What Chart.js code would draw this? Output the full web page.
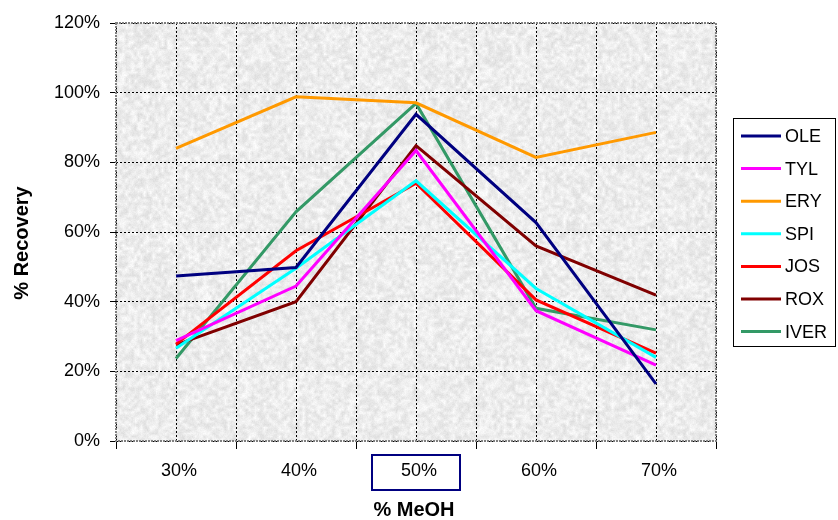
<!DOCTYPE html>
<html>
<head>
<meta charset="utf-8">
<title>% Recovery vs % MeOH</title>
<script src="https://cdn.jsdelivr.net/npm/chart.js@4.4.0/dist/chart.umd.min.js"></script>
<style>
  html, body { margin: 0; padding: 0; background: #ffffff; }
  canvas { display: block; }
</style>
</head>
<body>
<canvas id="chart" width="838" height="520"></canvas>
<script>
// Methanol fraction of the elution solvent
const categories = ['30%', '40%', '50%', '60%', '70%'];

// Recovery (%) per compound
const OLE  = [47.4, 49.8, 93.8, 62.7, 16.4];
const TYL  = [28.8, 44.5, 83.4, 37.4, 21.8];
const ERY  = [84.0, 98.8, 97.1, 81.4, 88.6];
const SPI  = [26.6, 49.6, 74.7, 43.8, 24.0];
const JOS  = [27.8, 54.6, 74.0, 40.5, 25.2];
const ROX  = [27.6, 40.0, 84.8, 56.0, 41.9];
const IVER = [23.7, 65.8, 96.9, 38.1, 31.9];

const seriesNames  = ['OLE', 'TYL', 'ERY', 'SPI', 'JOS', 'ROX', 'IVER'];
const seriesValues = [OLE, TYL, ERY, SPI, JOS, ROX, IVER];
const seriesColors = ['#000080', '#FF00FF', '#FF9900', '#00FFFF', '#FF0000', '#800000', '#339966'];

const yTicks = [0, 20, 40, 60, 80, 100, 120];
const highlightedCategory = '50%';

const FONT = "'Liberation Sans', Arial, Helvetica, sans-serif";

// deterministic hash noise for the stone-like plot background
function hash(x, y, s) {
  const v = Math.sin(x * 12.9898 + y * 78.233 + s * 37.719) * 43758.5453;
  return v - Math.floor(v);
}

function makeTexture(w, h) {
  const c = document.createElement('canvas');
  c.width = w; c.height = h;
  const g = c.getContext('2d');
  const cw = Math.ceil(w / 3), ch = Math.ceil(h / 3);
  const coarse = document.createElement('canvas');
  coarse.width = cw; coarse.height = ch;
  const cg = coarse.getContext('2d');
  const img = cg.createImageData(cw, ch);
  for (let y = 0; y < ch; y++) {
    for (let x = 0; x < cw; x++) {
      const n = hash(x, y, 1);
      const v = Math.round(237 + (n - 0.5) * 28);
      const i = (y * cw + x) * 4;
      img.data[i] = img.data[i + 1] = img.data[i + 2] = v;
      img.data[i + 3] = 255;
    }
  }
  cg.putImageData(img, 0, 0);
  g.imageSmoothingEnabled = true;
  g.drawImage(coarse, 0, 0, w, h);
  const fine = g.getImageData(0, 0, w, h);
  for (let y = 0; y < h; y++) {
    for (let x = 0; x < w; x++) {
      const i = (y * w + x) * 4;
      const d = (hash(x, y, 2) - 0.5) * 9;
      for (let k = 0; k < 3; k++) {
        fine.data[i + k] = Math.max(0, Math.min(255, fine.data[i + k] + d));
      }
    }
  }
  g.putImageData(fine, 0, 0);
  return c;
}

let texture = null;

const backgroundPlugin = {
  id: 'plotBackground',
  beforeDraw(chart) {
    const { ctx, chartArea: a } = chart;
    ctx.save();
    ctx.fillStyle = '#ffffff';
    ctx.fillRect(0, 0, chart.width, chart.height);
    const w = Math.round(a.right - a.left), h = Math.round(a.bottom - a.top);
    if (!texture || texture.width !== w || texture.height !== h) texture = makeTexture(w, h);
    ctx.drawImage(texture, Math.round(a.left), Math.round(a.top));
    ctx.restore();
  }
};

// dotted lines through each category centre, plus the plot frame
const frameAndCentreLines = {
  id: 'frameAndCentreLines',
  beforeDatasetsDraw(chart) {
    const { ctx, chartArea: a, scales: { x } } = chart;
    ctx.save();
    ctx.strokeStyle = '#000000';
    ctx.lineWidth = 1;
    ctx.setLineDash([2, 2]);
    categories.forEach((c, i) => {
      const px = Math.round(x.getPixelForValue(i)) + 0.5;
      ctx.beginPath();
      ctx.moveTo(px, a.top);
      ctx.lineTo(px, a.bottom);
      ctx.stroke();
    });
    ctx.strokeStyle = '#808080';
    ctx.lineWidth = 2;
    ctx.setLineDash([2, 1]);
    ctx.strokeRect(Math.round(a.left), Math.round(a.top), Math.round(a.right - a.left), Math.round(a.bottom - a.top));
    ctx.restore();
  }
};

// axis titles, the boxed category label and the legend panel
const annotations = {
  id: 'annotations',
  afterDraw(chart) {
    const { ctx, chartArea: a, scales: { x } } = chart;
    ctx.save();
    ctx.fillStyle = '#000000';
    ctx.font = 'bold 20px ' + FONT;
    ctx.textAlign = 'center';
    ctx.textBaseline = 'middle';
    ctx.fillText('% MeOH', 414, 510);
    ctx.save();
    ctx.translate(22, 243);
    ctx.rotate(-Math.PI / 2);
    ctx.fillText('% Recovery', 0, 0);
    ctx.restore();

    // box round the highlighted category label
    const hi = categories.indexOf(highlightedCategory);
    if (hi >= 0) {
      const cx = Math.round(x.getPixelForValue(hi));
      ctx.strokeStyle = '#000080';
      ctx.lineWidth = 2;
      ctx.strokeRect(cx - 44, 455, 88, 35);
    }

    // legend
    const lx = 733.5, ly = 118.5, lw = 102, lh = 228;
    ctx.fillStyle = '#ffffff';
    ctx.fillRect(lx, ly, lw, lh);
    ctx.strokeStyle = '#000000';
    ctx.lineWidth = 1;
    ctx.strokeRect(lx, ly, lw, lh);
    ctx.font = '18px ' + FONT;
    ctx.textAlign = 'left';
    ctx.textBaseline = 'middle';
    chart.data.datasets.forEach((ds, i) => {
      const y = 136 + i * 32.6;
      ctx.strokeStyle = ds.borderColor;
      ctx.lineWidth = 3;
      ctx.beginPath();
      ctx.moveTo(741, y);
      ctx.lineTo(781, y);
      ctx.stroke();
      ctx.fillStyle = '#000000';
      ctx.fillText(ds.label, 785, y + 1);
    });
    ctx.restore();
  }
};

new Chart(document.getElementById('chart'), {
  type: 'line',
  data: {
    labels: categories,
    datasets: seriesNames.map((name, i) => ({
      label: name,
      data: seriesValues[i],
      borderColor: seriesColors[i],
      backgroundColor: seriesColors[i],
      borderWidth: 3,
      pointRadius: 0,
      tension: 0,
      fill: false
    }))
  },
  options: {
    responsive: false,
    animation: false,
    devicePixelRatio: 1,
    layout: { padding: { left: 0, top: 23, right: 122, bottom: 0 } },
    plugins: {
      legend: { display: false },
      tooltip: { enabled: false },
      title: { display: false }
    },
    scales: {
      x: {
        type: 'category',
        offset: true,
        afterFit(scale) { scale.height = 79; },
        grid: {
          offset: true,
          color: '#000000',
          lineWidth: 1,
          drawTicks: true,
          tickLength: 8,
          tickColor: '#000000',
          tickBorderDash: []
        },
        border: { display: false, dash: [2, 2] },
        ticks: {
          color: '#000000',
          font: { family: FONT, size: 18 },
          padding: 11,
          labelOffset: 3,
          maxRotation: 0,
          autoSkip: false
        }
      },
      y: {
        type: 'linear',
        min: 0,
        max: 120,
        afterFit(scale) { scale.width = 116; },
        afterBuildTicks(scale) { scale.ticks = yTicks.map(v => ({ value: v })); },
        grid: {
          color: '#000000',
          lineWidth: 1,
          drawTicks: true,
          tickLength: 6,
          tickColor: '#000000',
          tickBorderDash: []
        },
        border: { display: false, dash: [2, 2] },
        ticks: {
          color: '#000000',
          font: { family: FONT, size: 18 },
          padding: 10,
          callback: v => v + '%'
        }
      }
    }
  },
  plugins: [backgroundPlugin, frameAndCentreLines, annotations]
});
</script>
</body>
</html>
